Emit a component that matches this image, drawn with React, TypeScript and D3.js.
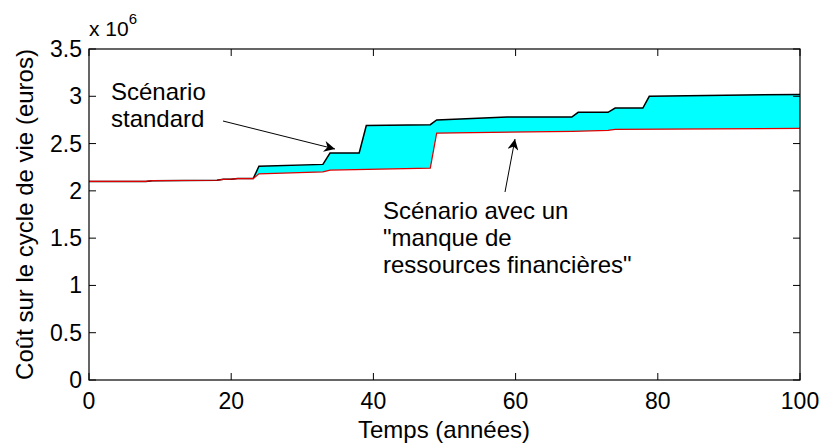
import React from "react";
import * as d3 from "d3";

const yearsStd = [0, 8, 8.9, 18, 18.9, 20, 20.9, 23.1, 23.9, 32.9, 33.9, 38, 39, 48, 48.9, 58.8, 67.9, 68.8, 73, 74, 77.9, 78.8, 100];
const costStd = [2.1, 2.1, 2.108, 2.112, 2.122, 2.124, 2.13, 2.13, 2.26, 2.28, 2.4, 2.4, 2.69, 2.7, 2.75, 2.78, 2.78, 2.83, 2.83, 2.875, 2.875, 3.0, 3.02];
const yearsLow = [0, 8, 8.9, 18, 18.9, 20, 20.9, 23.1, 23.9, 32.9, 33.9, 48, 48.9, 68, 73, 74, 100];
const costLow = [2.1, 2.1, 2.108, 2.112, 2.122, 2.124, 2.13, 2.13, 2.18, 2.2, 2.22, 2.24, 2.61, 2.63, 2.64, 2.65, 2.66];
const xTicks = [0, 20, 40, 60, 80, 100];
const yTicks = [0, 0.5, 1, 1.5, 2, 2.5, 3, 3.5];

const W = 821, H = 444;
const L = 89, R = 800, T = 49, B = 380;

function interp(ts: number[], vs: number[], t: number) {
  for (let i = 1; i < ts.length; i++) {
    if (t <= ts[i]) {
      const f = (t - ts[i - 1]) / (ts[i] - ts[i - 1]);
      return vs[i - 1] + f * (vs[i] - vs[i - 1]);
    }
  }
  return vs[vs.length - 1];
}

export default function App() {
  const x = d3.scaleLinear().domain([0, 100]).range([L, R]);
  const y = d3.scaleLinear().domain([0, 3.5]).range([B, T]);
  const std = yearsStd.map((t, i) => [t, costStd[i]] as [number, number]);
  const low = yearsLow.map((t, i) => [t, costLow[i]] as [number, number]);
  const allT = Array.from(new Set([...yearsStd, ...yearsLow])).sort((a, b) => a - b);
  const area = d3
    .area<number>()
    .x((t) => x(t))
    .y0((t) => y(interp(yearsLow, costLow, t)))
    .y1((t) => y(interp(yearsStd, costStd, t)));
  const line = d3
    .line<[number, number]>()
    .x((d) => x(d[0]))
    .y((d) => y(d[1]));
  const font = "Liberation Sans, Arial, Helvetica, sans-serif";
  const tk = 7;
  const fs = 23;
  const fa = 24;
  return (
    <svg width={W} height={H} style={{ position: "absolute", left: 0, top: 0 }} fontFamily={font}>
      <defs>
        <marker id="ah" viewBox="0 0 10 10" refX="10" refY="5" markerWidth="16" markerHeight="11" markerUnits="userSpaceOnUse" orient="auto">
          <path d="M0,0 L10,5 L0,10 L3,5 Z" fill="black" />
        </marker>
      </defs>
      <rect x={0} y={0} width={W} height={H} fill="white" />
      <path d={area(allT) || ""} fill="#00ffff" stroke="none" />
      <path d={line(std) || ""} fill="none" stroke="black" strokeWidth={1.5} />
      <path d={line(low) || ""} fill="none" stroke="#e00000" strokeWidth={1.2} />
      <rect x={L} y={T} width={R - L} height={B - T} fill="none" stroke="black" strokeWidth={1.2} />
      {xTicks.map((t) => (
        <g key={"x" + t}>
          <line x1={x(t)} x2={x(t)} y1={B} y2={B - tk} stroke="black" />
          <line x1={x(t)} x2={x(t)} y1={T} y2={T + tk} stroke="black" />
          <text x={x(t)} y={B + 29} fontSize={fs} textAnchor="middle">{t}</text>
        </g>
      ))}
      {yTicks.map((v) => (
        <g key={"y" + v}>
          <line x1={L} x2={L + tk} y1={y(v)} y2={y(v)} stroke="black" />
          <line x1={R} x2={R - tk} y1={y(v)} y2={y(v)} stroke="black" />
          <text x={L - 7} y={y(v) + 8} fontSize={fs} textAnchor="end">{v}</text>
        </g>
      ))}
      <text x={89} y={36} fontSize={21}>x 10<tspan dy={-12} fontSize={15}>6</tspan></text>
      <text x={444} y={438} fontSize={fa} textAnchor="middle">Temps (années)</text>
      <text transform={`translate(33,${(T + B) / 2}) rotate(-90)`} fontSize={fa} textAnchor="middle">Coût sur le cycle de vie (euros)</text>
      <text x={111} y={100} fontSize={fa}>Scénario</text>
      <text x={111} y={127} fontSize={fa}>standard</text>
      <line x1={223} y1={121} x2={335} y2={149} stroke="black" strokeWidth={1} markerEnd="url(#ah)" />
      <text x={383} y={219} fontSize={fa}>Scénario avec un</text>
      <text x={383} y={246} fontSize={fa}>"manque de</text>
      <text x={383} y={273} fontSize={fa}>ressources financières"</text>
      <line x1={505} y1={192} x2={515} y2={139} stroke="black" strokeWidth={1} markerEnd="url(#ah)" />
    </svg>
  );
}
